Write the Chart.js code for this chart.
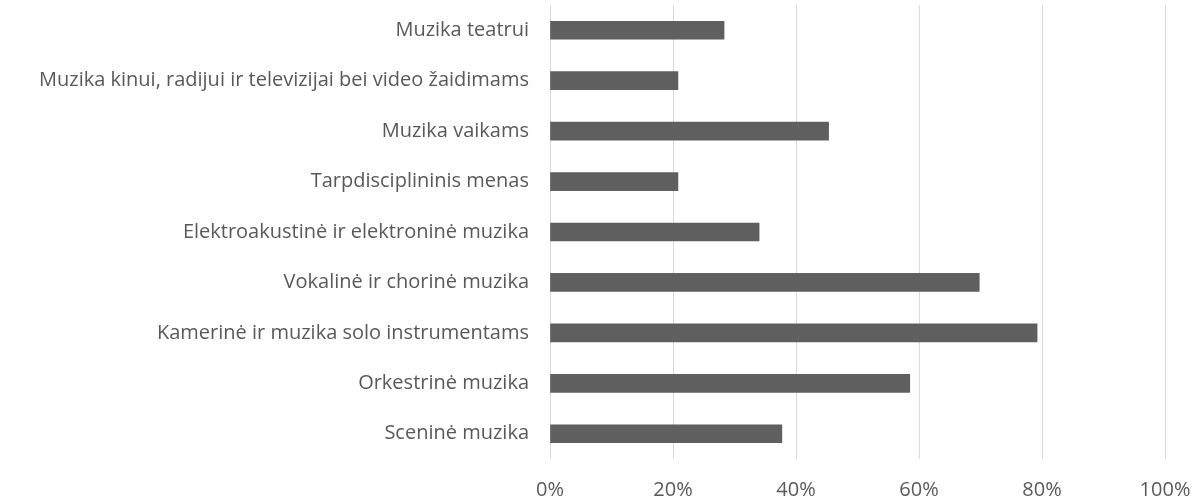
<!DOCTYPE html>
<html>
<head>
<meta charset="utf-8">
<script src="https://cdn.jsdelivr.net/npm/chart.js@4"></script>
<style>
  html, body { margin: 0; padding: 0; background: #ffffff; }
  #wrap { width: 1198px; height: 498px; }
</style>
</head>
<body>
<div id="wrap"><canvas id="muzikaChart" width="1198" height="498"></canvas></div>
<script>
const categories = [
  'Muzika teatrui',
  'Muzika kinui, radijui ir televizijai bei video žaidimams',
  'Muzika vaikams',
  'Tarpdisciplininis menas',
  'Elektroakustinė ir elektroninė muzika',
  'Vokalinė ir chorinė muzika',
  'Kamerinė ir muzika solo instrumentams',
  'Orkestrinė muzika',
  'Sceninė muzika'
]

const shares = [28.3, 20.8, 45.3, 20.8, 34.0, 69.8, 79.2, 58.5, 37.7]

const tickLabels = ['0%', '20%', '40%', '60%', '80%', '100%']

const textColor = '#595959'
const fontFamily = '"Open Sans", sans-serif'

const data = {
  labels: categories,
  datasets: [{
    data: shares,
    backgroundColor: '#5f5f5f',
    borderWidth: 0,
    barThickness: 18
  }]
}

const config = {
  type: 'bar',
  data: data,
  options: {
    indexAxis: 'y',
    responsive: false,
    animation: false,
    layout: {
      padding: { top: 5, right: 33, bottom: 0, left: 0 }
    },
    plugins: {
      legend: { display: false },
      tooltip: { enabled: false }
    },
    scales: {
      x: {
        min: 0,
        max: 100,
        ticks: {
          stepSize: 20,
          color: textColor,
          font: { family: fontFamily, size: 20 },
          padding: 19,
          callback: (value, i) => tickLabels[i]
        },
        grid: {
          color: '#d9d9d9',
          lineWidth: 1,
          drawTicks: false
        },
        border: { display: false },
        afterFit: scale => {
          scale.height = 39
          scale.paddingLeft = 0
          scale.paddingRight = 0
        }
      },
      y: {
        ticks: {
          color: textColor,
          font: { family: fontFamily, size: 20 },
          padding: 21
        },
        grid: { display: false, drawTicks: false },
        border: { display: false },
        afterFit: scale => {
          scale.width = 550
          scale.paddingTop = 0
          scale.paddingBottom = 0
        }
      }
    }
  }
}

const muzikaChart = new Chart(document.getElementById('muzikaChart'), config)
</script>
</body>
</html>
